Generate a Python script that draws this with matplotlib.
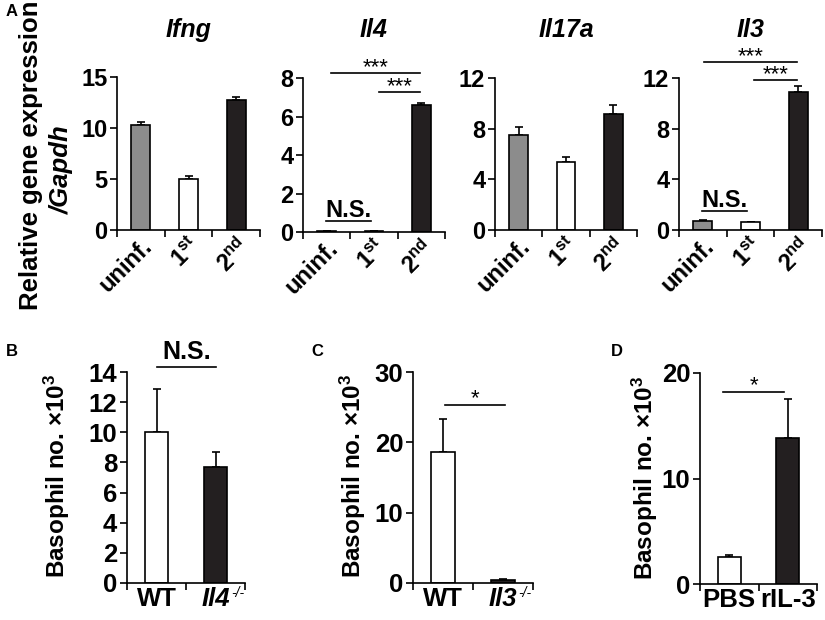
import matplotlib
matplotlib.use("Agg")
import matplotlib.pyplot as plt
import matplotlib.transforms as mtransforms
import numpy as np

plt.rcParams['font.family'] = ['Liberation Sans', 'DejaVu Sans']
plt.rcParams['font.weight'] = 'bold'
plt.rcParams['mathtext.fontset'] = 'custom'
plt.rcParams['mathtext.rm'] = 'Liberation Sans'
plt.rcParams['mathtext.it'] = 'Liberation Sans:italic:bold'
plt.rcParams['mathtext.bf'] = 'Liberation Sans:bold'

# ---------------- data ----------------
a_genes = ["Ifng", "Il4", "Il17a", "Il3"]
a_cats = [r"uninf.", r"$\mathbf{1}^{\mathrm{st}}$", r"$\mathbf{2}^{\mathrm{nd}}$"]
a_vals = {
    "Ifng": [10.3, 5.0, 12.75],
    "Il4": [0.05, 0.03, 6.6],
    "Il17a": [7.5, 5.34, 9.16],
    "Il3": [0.75, 0.62, 10.87],
}
a_errs = {
    "Ifng": [0.3, 0.3, 0.32],
    "Il4": [0.01, 0.01, 0.12],
    "Il17a": [0.65, 0.4, 0.7],
    "Il3": [0.04, 0.05, 0.5],
}
a_ymax = {"Ifng": 15, "Il4": 8, "Il17a": 12, "Il3": 12}
a_yticks = {"Ifng": [0, 5, 10, 15], "Il4": [0, 2, 4, 6, 8],
            "Il17a": [0, 4, 8, 12], "Il3": [0, 4, 8, 12]}

b_cats = ["WT", "Il4"]
b_vals = [10.05, 7.7]
b_errs = [2.85, 1.0]
c_cats = ["WT", "Il3"]
c_vals = [18.6, 0.45]
c_errs = [4.7, 0.12]
d_cats = ["PBS", "rIL-3"]
d_vals = [2.6, 13.8]
d_errs = [0.12, 3.7]
ko_sup = "-/-"

gray = "#8c8c8c"
black = "#231f20"
a_colors = [gray, "white", black]
bd_colors = ["white", black]

W, H = 825, 620
fig = plt.figure(figsize=(8.25, 6.2), dpi=100)


def ax_px(l, r, top, bot):
    return fig.add_axes([l / W, 1 - bot / H, (r - l) / W, (bot - top) / H])


def style(ax, n, labels, ymax, yticks, fs, rot, italic_idx=()):
    ax.set_xlim(0, n)
    ax.set_ylim(0, ymax)
    for s in ["top", "right"]:
        ax.spines[s].set_visible(False)
    for s in ["left", "bottom"]:
        ax.spines[s].set_linewidth(1.2)
    ax.set_xticks(np.arange(n + 1))
    ax.set_xticklabels([])
    ax.set_xticks(np.arange(n) + 0.5, minor=True)
    if rot:
        lbls = ax.set_xticklabels(labels, minor=True, rotation=45, ha='right',
                                  va='top', rotation_mode='anchor', fontsize=fs,
                                  fontweight='bold')
        off = mtransforms.ScaledTranslation(14 / 100, -6 / 100, fig.dpi_scale_trans)
        for t in lbls:
            t.set_transform(t.get_transform() + off)
    else:
        lbls = ax.set_xticklabels(labels, minor=True, fontsize=fs,
                                  fontweight='bold')
        for i in italic_idx:
            lbls[i].set_fontstyle('italic')
    ax.tick_params(axis='x', which='major', direction='out', length=5, width=1.2)
    ax.tick_params(axis='x', which='minor', length=0, pad=3)
    ax.set_yticks(yticks)
    ax.set_yticklabels([str(t) for t in yticks], fontsize=fs, fontweight='bold')
    ax.tick_params(axis='y', direction='out', length=5, width=1.2, pad=2)
    return lbls


def bars(ax, vals, errs, colors):
    x = np.arange(len(vals)) + 0.5
    ax.bar(x, vals, width=0.4, color=colors, edgecolor='black', linewidth=1.2,
           zorder=2)
    ax.errorbar(x, vals, yerr=[np.zeros(len(vals)), errs], fmt='none',
                ecolor='black', elinewidth=1.2, capsize=3, capthick=1.2,
                zorder=1)


def sig(ax, x0, x1, y, txt, fs=16, bold=False, dy_pt=0.0):
    ax.plot([x0, x1], [y, y], color='black', lw=1.2, clip_on=False)
    ax.annotate(txt, xy=((x0 + x1) / 2, y), xytext=(0, dy_pt),
                textcoords='offset points', ha='center', va='bottom',
                fontsize=fs, fontweight='bold' if bold else 'normal',
                annotation_clip=False)


def ko_label(ax, lbl):
    ax.annotate(ko_sup, xy=(1, 1), xycoords=lbl, xytext=(1, 1),
                textcoords='offset points', ha='left', va='top', fontsize=10,
                fontweight='normal', fontstyle='italic')


# ---------------- panel A ----------------
a_pos = {"Ifng": (117, 260, 77, 230), "Il4": (303, 445, 78, 232),
         "Il17a": (495, 637, 78, 230), "Il3": (679, 822, 78, 230)}
axes_a = {}
for g in a_genes:
    l, r, t, b = a_pos[g]
    ax = ax_px(l, r, t, b)
    bars(ax, a_vals[g], a_errs[g], a_colors)
    style(ax, 3, a_cats, a_ymax[g], a_yticks[g], 17, True)
    fig.text((l + r) / 2 / W, 1 - 30 / H, g, ha='center', va='center',
             fontsize=18, fontweight='bold', fontstyle='italic')
    axes_a[g] = ax

ax = axes_a["Il4"]
sig(ax, 0.59, 2.47, 8.26, "***", dy_pt=-4)
sig(ax, 1.61, 2.47, 7.27, "***", dy_pt=-4)
sig(ax, 0.49, 1.44, 0.57, "N.S.", fs=17, bold=True, dy_pt=-1)
ax = axes_a["Il3"]
sig(ax, 0.52, 2.47, 13.26, "***", dy_pt=-4)
sig(ax, 1.57, 2.47, 11.84, "***", dy_pt=-4)
sig(ax, 0.48, 1.43, 1.5, "N.S.", fs=17, bold=True, dy_pt=-1)

fig.text(31 / W, 1 - 155 / H, "Relative gene expression", rotation=90,
         ha='center', va='center', fontsize=18.5, fontweight='bold')
fig.text(62 / W, 1 - 170 / H, "/Gapdh", rotation=90,
         ha='center', va='center', fontsize=18.5, fontweight='bold',
         fontstyle='italic')
fig.text(12 / W, 1 - 12 / H, "A", ha='center', va='center', fontsize=12,
         fontweight='bold')

# ---------------- panels B, C, D ----------------
ylab = r"Basophil no. ×10$^{3}$"

axb = ax_px(127, 245, 372, 583)
bars(axb, b_vals, b_errs, bd_colors)
lb = style(axb, 2, b_cats, 14, [0, 2, 4, 6, 8, 10, 12, 14], 18.5, False, (1,))
ko_label(axb, lb[1])
sig(axb, 0.51, 1.51, 14.33, "N.S.", fs=18, bold=True, dy_pt=2)
fig.text(57 / W, 1 - 476 / H, ylab, rotation=90, ha='center', va='center',
         fontsize=17.5, fontweight='bold')
fig.text(12 / W, 1 - 352 / H, "B", ha='center', va='center', fontsize=12,
         fontweight='bold')

axc = ax_px(413, 533, 372, 583)
bars(axc, c_vals, c_errs, bd_colors)
lc = style(axc, 2, c_cats, 30, [0, 10, 20, 30], 18.5, False, (1,))
ko_label(axc, lc[1])
sig(axc, 0.53, 1.53, 25.3, "*", fs=16, dy_pt=-3)
fig.text(353 / W, 1 - 476 / H, ylab, rotation=90, ha='center', va='center',
         fontsize=17.5, fontweight='bold')
fig.text(317 / W, 1 - 352 / H, "C", ha='center', va='center', fontsize=12,
         fontweight='bold')

axd = ax_px(700, 817, 373, 584)
bars(axd, d_vals, d_errs, bd_colors)
style(axd, 2, d_cats, 20, [0, 10, 20], 18.5, False)
sig(axd, 0.4, 1.43, 18.2, "*", fs=16, dy_pt=-3)
fig.text(645 / W, 1 - 478 / H, ylab, rotation=90, ha='center', va='center',
         fontsize=17.5, fontweight='bold')
fig.text(617 / W, 1 - 352 / H, "D", ha='center', va='center', fontsize=12,
         fontweight='bold')

fig.savefig("out.png", dpi=100)
